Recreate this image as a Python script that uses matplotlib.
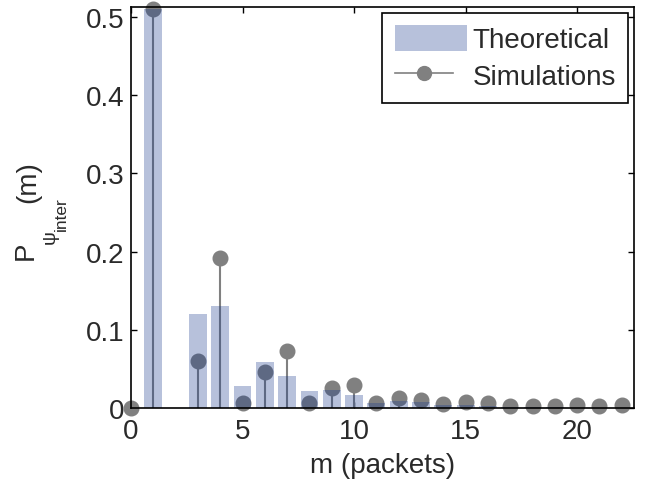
import numpy as np
import matplotlib
matplotlib.use("Agg")
import matplotlib.pyplot as plt
from matplotlib.patches import Patch
from matplotlib.lines import Line2D
from matplotlib.legend_handler import HandlerLine2D

plt.rcParams['font.family'] = ['Liberation Sans', 'DejaVu Sans']

# Data
m_theory = list(range(0, 23))
p_theory = [0.0, 0.51, 0.0, 0.120, 0.130, 0.0285, 0.059, 0.0405, 0.0215, 0.023,
            0.0166, 0.006, 0.009, 0.008, 0.004, 0.004, 0.002, 0.0015, 0.001,
            0.0007, 0.0005, 0.0005, 0.0004]
m_sim = [0, 1, 3, 4, 5, 6, 7, 8, 9, 10, 11, 12, 13, 14, 15, 16, 17, 18, 19, 20, 21, 22]
p_sim = [0.0, 0.51, 0.060, 0.192, 0.007, 0.0456, 0.0733, 0.007, 0.025, 0.029,
         0.006, 0.0124, 0.0107, 0.005, 0.0075, 0.006, 0.003, 0.003, 0.003,
         0.0035, 0.003, 0.0035]

xticks = [0, 5, 10, 15, 20]
yticks = [0, 0.1, 0.2, 0.3, 0.4, 0.5]
ytick_labels = ['0', '0.1', '0.2', '0.3', '0.4', '0.5']

bar_color = (18/255, 52/255, 138/255)
bar_alpha = 0.3
sim_color = '#808080'
text_color = '#2a2a2a'
FS = 20

W, H = 657, 485
fig = plt.figure(figsize=(W/100, H/100), dpi=100)
ax = fig.add_axes([131/W, 1 - 409/H, (634 - 131)/W, (409 - 8)/H])

# Simulations (stems)
ml, sl, bl = ax.stem(m_sim, p_sim, linefmt='-', markerfmt='o', basefmt=' ')
plt.setp(sl, color=sim_color, linewidth=1.5, zorder=2)
plt.setp(ml, color=sim_color, markersize=10.5, zorder=2, clip_on=False)

# Theoretical bars on top (semi transparent)
ax.bar(m_theory, p_theory, width=0.8, color=bar_color, alpha=bar_alpha,
       linewidth=0, zorder=3)

ax.set_xlim(0, 22.55)
ax.set_ylim(0, 0.5125)
ax.set_xticks(xticks)
ax.set_xticklabels([str(t) for t in xticks])
ax.set_yticks(yticks)
ax.set_yticklabels(ytick_labels)

for s in ax.spines.values():
    s.set_linewidth(1.2)
    s.set_color('black')
    s.set_zorder(5)

ax.tick_params(direction='in', length=4, width=1, labelsize=FS,
               top=True, right=True, colors='black')
ax.tick_params(axis='x', pad=7)
ax.tick_params(axis='y', pad=5)
for lab in ax.get_xticklabels() + ax.get_yticklabels():
    lab.set_color(text_color)

ax.set_xlabel('m (packets)', fontsize=FS, color=text_color, labelpad=6)

# y label built from pieces (P, psi subscript, inter sub-subscript, (m))
def ftext(x, y, s, size):
    fig.text(x / W, 1 - y / H, s, fontsize=size, rotation=90, ha='center',
             va='center', rotation_mode='anchor', color=text_color)

ftext(26, 251, 'P', FS)
ftext(50, 237, 'ψ', 14)
ftext(61, 214, 'inter', 12.5)
ftext(28, 182, '(m)', FS)


class MarkerRightHandler(HandlerLine2D):
    def get_xdata(self, legend, xdescent, ydescent, width, height, fontsize):
        xdata = np.array([-xdescent, -xdescent + 0.81 * width])
        xdata_marker = np.array([-xdescent + 0.72 * width])
        return xdata, xdata_marker


sim_handle = Line2D([0], [0], color=sim_color, linewidth=1.2, marker='o',
                    markersize=10)
handles = [Patch(facecolor=bar_color, alpha=bar_alpha, edgecolor='none'),
           sim_handle]
leg = ax.legend(handles, ['Theoretical', 'Simulations'], loc='upper right',
                fontsize=FS, frameon=True, fancybox=False, edgecolor='black',
                framealpha=1, borderpad=0.45, labelspacing=0.3,
                handlelength=2.6, handleheight=1.05, handletextpad=0.2,
                borderaxespad=0.2,
                handler_map={sim_handle: MarkerRightHandler()})
leg.get_frame().set_linewidth(1.2)
for t in leg.get_texts():
    t.set_color(text_color)

fig.savefig('out.png', dpi=100)
